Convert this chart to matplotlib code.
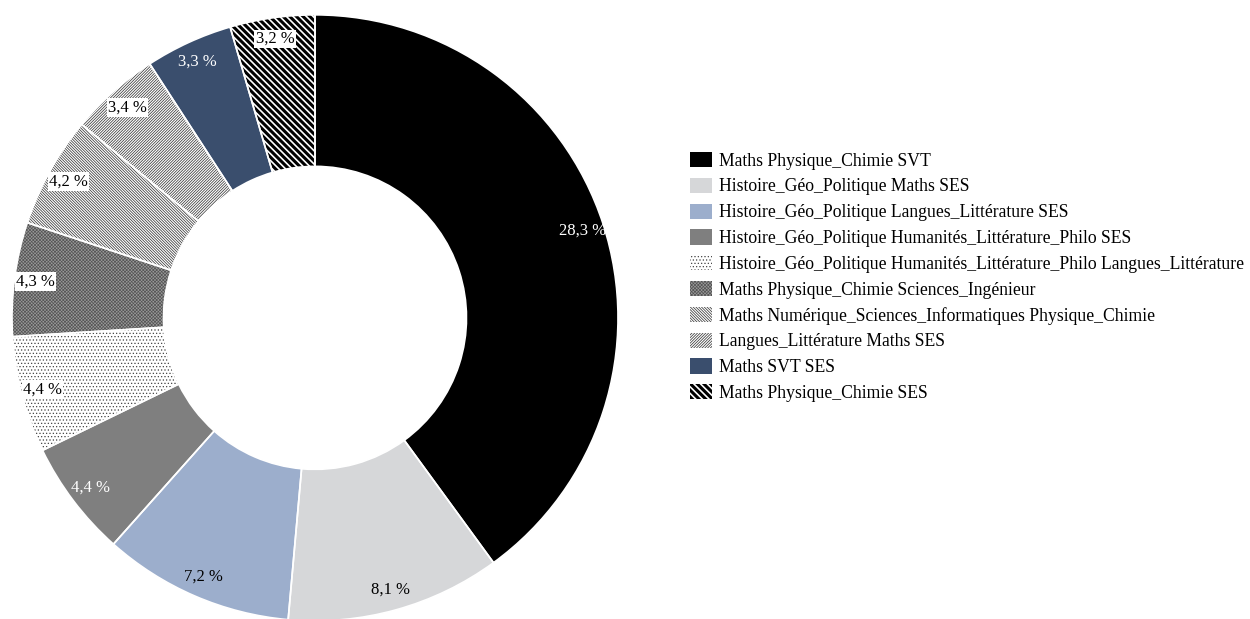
import numpy as np
import matplotlib
matplotlib.use("Agg")
import matplotlib.pyplot as plt

# Combinations of specialties and their share (%)
labels = [
    "Maths Physique_Chimie SVT",
    "Histoire_Géo_Politique Maths SES",
    "Histoire_Géo_Politique Langues_Littérature SES",
    "Histoire_Géo_Politique Humanités_Littérature_Philo SES",
    "Histoire_Géo_Politique Humanités_Littérature_Philo Langues_Littérature",
    "Maths Physique_Chimie Sciences_Ingénieur",
    "Maths Numérique_Sciences_Informatiques Physique_Chimie",
    "Langues_Littérature Maths SES",
    "Maths SVT SES",
    "Maths Physique_Chimie SES",
]
values = [28.3, 8.1, 7.2, 4.4, 4.4, 4.3, 4.2, 3.4, 3.3, 3.2]

# Fill style per slice
face_colors = ["#000000", "#d6d7d9", "#9caecc", "#7f7f7f", "#ffffff",
               "#9a9a9a", "#ffffff", "#ffffff", "#3a4e6d", "#ffffff"]
hatches = [None, None, None, None, ".....", "x" * 10,
           "\\" * 12, "/" * 12, None, "\\" * 5]
hatch_colors = ["#000000", "#d6d7d9", "#9caecc", "#7f7f7f", "#444444",
                "#555555", "#3a3a3a", "#3a3a3a", "#3a4e6d", "#000000"]
hatch_widths = [0.5, 0.5, 0.5, 0.5, 0.5, 0.5, 0.55, 0.55, 0.5, 2.2]
text_colors = ["white", "black", "black", "white", "black",
               "black", "black", "black", "white", "black"]
boxed = [False, False, False, False, True, True, True, True, False, True]

plt.rcParams["font.family"] = ["Liberation Serif", "DejaVu Serif"]
plt.rcParams["hatch.linewidth"] = 0.5

fig = plt.figure(figsize=(12.5, 6.19), dpi=100)
ax = fig.add_axes([0.0096, -0.003, 0.4848, 0.979])

wedges, _ = ax.pie(values, startangle=90, counterclock=False, radius=1.0,
                   colors=face_colors,
                   wedgeprops=dict(width=0.5, linewidth=0))
for w, h, hc, hw in zip(wedges, hatches, hatch_colors, hatch_widths):
    w.set_edgecolor(hc)
    if h:
        w.set_hatch(h)
        if hasattr(w, "set_hatch_linewidth"):
            w.set_hatch_linewidth(hw)

# white separators between slices
ax.pie(values, startangle=90, counterclock=False, radius=1.0,
       wedgeprops=dict(width=0.5, linewidth=1.2, edgecolor="white", fill=False))

# percentage labels near the outer edge
total = sum(values)
cum = 0.0
for v, tc, bx in zip(values, text_colors, boxed):
    mid = 90 - (cum + v / 2) / total * 360
    cum += v
    r = 0.93
    x, y = r * np.cos(np.radians(mid)), r * np.sin(np.radians(mid))
    txt = f"{v:.1f} %".replace(".", ",")
    kw = {}
    if bx:
        kw["bbox"] = dict(facecolor="white", edgecolor="none", pad=1)
    ax.text(x, y, txt, ha="center", va="center", fontsize=12, color=tc, **kw)

ax.set_xlim(-1, 1)
ax.set_ylim(-1, 1)
ax.set_aspect("equal")
ax.axis("off")

leg = fig.legend(wedges, labels, loc="upper left", bbox_to_anchor=(0.552, 0.7545),
                 frameon=False, fontsize=12.7, handlelength=1.24, handleheight=0.95,
                 handletextpad=0.4, labelspacing=0.46, borderpad=0, borderaxespad=0)
for h, hw in zip(leg.legend_handles, hatch_widths):
    if hasattr(h, "set_hatch_linewidth"):
        h.set_hatch_linewidth(hw)

fig.savefig("out.png", dpi=100)
